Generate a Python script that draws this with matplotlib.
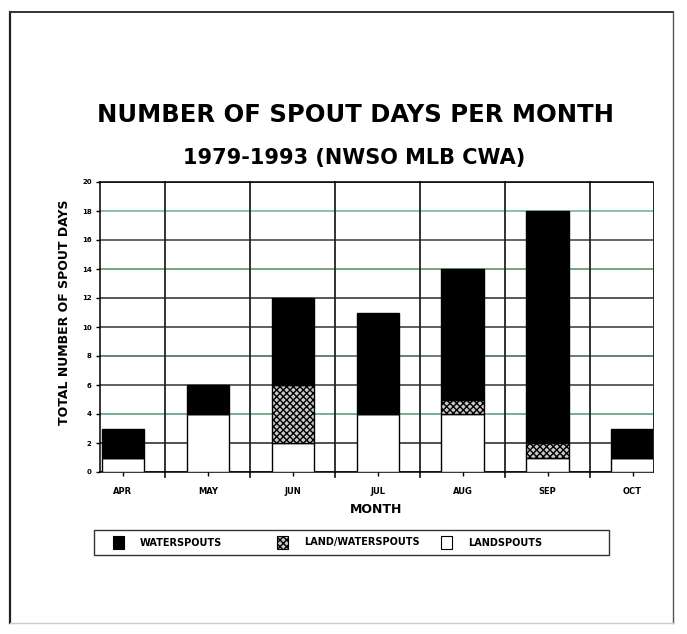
import matplotlib
matplotlib.use("Agg")
import matplotlib.pyplot as plt
from matplotlib.patches import Rectangle
from matplotlib.lines import Line2D
import numpy as np

months = ["APR", "MAY", "JUN", "JUL", "AUG", "SEP", "OCT"]
landspouts = [1, 4, 2, 4, 4, 1, 1]
landwaterspouts = [0, 0, 4, 0, 1, 1, 0]
waterspouts = [2, 2, 6, 7, 9, 16, 2]
yticks = [0, 2, 4, 6, 8, 10, 12, 14, 16, 18, 20]
grid_colors = ["#222222", "#222222", "#4f9a70", "#333333", "#3f5f4f", "#333333",
               "#2a2a2a", "#4d8d5d", "#4a3545", "#6ab0a0", "#222222"]
series_names = ["WATERSPOUTS", "LAND/WATERSPOUTS", "LANDSPOUTS"]

plt.rcParams['font.family'] = ['DejaVu Sans']

W, H = 687, 634
fig = plt.figure(figsize=(6.87, 6.34), dpi=100)
ax = fig.add_axes([100/W, 1-472/H, 553/W, 290/H])

x = np.arange(len(months))
w = 0.5
land = np.array(landspouts)
lw = np.array(landwaterspouts)
ws = np.array(waterspouts)

styles = {
    "WATERSPOUTS": dict(facecolor="black", edgecolor="black"),
    "LAND/WATERSPOUTS": dict(facecolor="#c8c8c8", edgecolor="black", hatch="xxxxx"),
    "LANDSPOUTS": dict(facecolor="white", edgecolor="black"),
}

# grid lines
for yv, c in zip(yticks, grid_colors):
    ax.axhline(yv, color=c, lw=1.1, zorder=1)
for i in range(len(months) - 1):
    ax.plot([i + 0.5, i + 0.5], [-0.35, 20], color="#222222", lw=1.3, zorder=1,
            clip_on=False)

ax.bar(x, land, w, lw=1, zorder=3, **styles["LANDSPOUTS"])
ax.bar(x, lw, w, bottom=land, lw=1, zorder=3, **styles["LAND/WATERSPOUTS"])
ax.bar(x, ws, w, bottom=land + lw, lw=1, zorder=3, **styles["WATERSPOUTS"])

ax.set_xlim(-0.27, 6.24)
ax.set_ylim(0, 20)
ax.set_yticks(yticks)
ax.set_yticklabels([str(v) for v in yticks], fontsize=5, fontweight="bold")
ax.set_xticks(x)
ax.set_xticklabels(months, fontsize=6, fontweight="bold")
ax.tick_params(axis="both", length=3, width=1, pad=3)
ax.tick_params(axis="x", pad=8)
for s in ax.spines.values():
    s.set_linewidth(1.1)
ax.spines["right"].set_linewidth(0.6)

fig.text(65/W, 1-312/H, "TOTAL NUMBER OF SPOUT DAYS", rotation=90, ha="center",
         va="center", fontsize=9, fontweight="bold")
ax.set_xlabel("MONTH", fontsize=9, fontweight="bold", labelpad=5)

fig.text(356/W, 1-115/H, "NUMBER OF SPOUT DAYS PER MONTH", ha="center", va="center",
         fontsize=17.5, fontweight="bold")
fig.text(354/W, 1-158/H, "1979-1993 (NWSO MLB CWA)", ha="center", va="center",
         fontsize=15, fontweight="bold")

# legend (drawn manually to match the original spacing)
fig.add_artist(Rectangle((94/W, 1-555/H), 515/W, 25/H, transform=fig.transFigure,
                         facecolor="white", edgecolor="#333333", lw=1.0))
for k, name in enumerate(series_names):
    x0 = 113 + k * 164
    fig.add_artist(Rectangle((x0/W, 1-549/H), 11/W, 13/H, transform=fig.transFigure,
                             lw=0.8, **styles[name]))
    fig.text((x0 + 27)/W, 1-542.5/H, name, ha="left", va="center", fontsize=7,
             fontweight="bold")

# outer frame
fig.add_artist(Line2D([10/W, 10/W], [1-12/H, 1-623/H], color="#222222", lw=1.6,
                      transform=fig.transFigure))
fig.add_artist(Line2D([10/W, 673/W], [1-12/H, 1-12/H], color="#333333", lw=1.4,
                      transform=fig.transFigure))
fig.add_artist(Line2D([673/W, 673/W], [1-12/H, 1-623/H], color="#555555", lw=1.0,
                      transform=fig.transFigure))
fig.add_artist(Line2D([10/W, 673/W], [1-623/H, 1-623/H], color="#cccccc", lw=1.0,
                      transform=fig.transFigure))

fig.savefig("out.png", dpi=100)
